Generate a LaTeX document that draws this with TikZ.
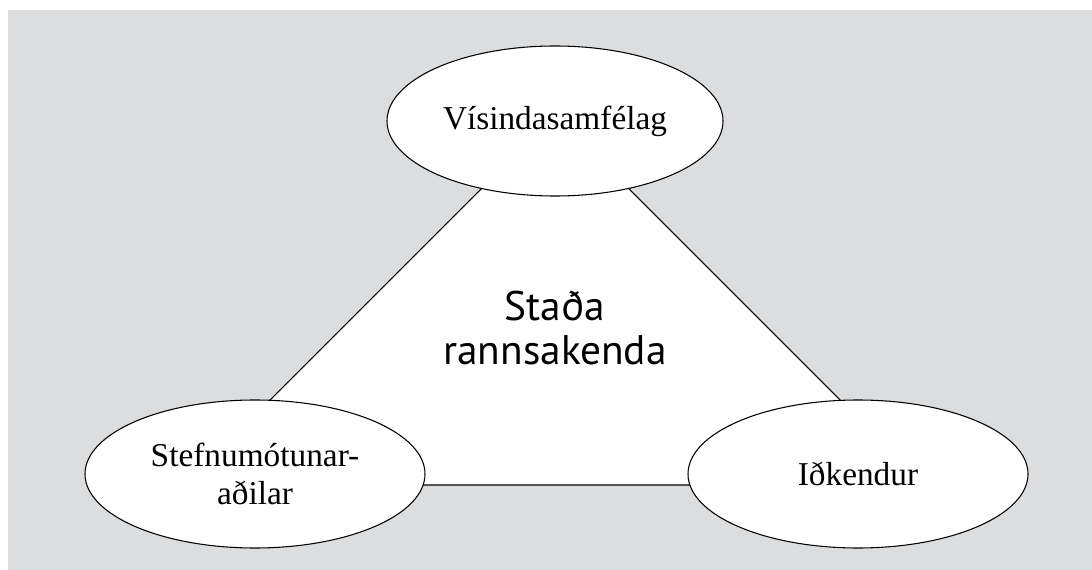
\documentclass[tikz,border=0pt]{standalone}
\usepackage{fontspec}
\setmainfont{Liberation Serif}
\newfontfamily\centerfont{PT Sans}
\usetikzlibrary{shapes.geometric}
\definecolor{bggray}{RGB}{220,221,223}
\tikzset{
  party/.style={ellipse, draw=black, fill=white, line width=0.8pt, inner sep=0pt,
    minimum width=255pt, minimum height=111pt, align=center,
    font=\fontsize{25}{29}\selectfont},
  tri/.style={draw=black, fill=white, line width=0.8pt, line join=miter},
  centertext/.style={align=center, inner sep=0pt,
    font=\centerfont\fontsize{31}{32.5}\selectfont}
}
\begin{document}
\begin{tikzpicture}[x=0.75pt, y=-0.75pt]
\useasboundingbox (0,0) rectangle (1092,570);
\fill[bggray] (8,10) rectangle (1092,570);
% triangle corners
\coordinate (apex) at (555,115);
\coordinate (bl) at (185,485);
\coordinate (br) at (925,485);
\draw[tri] (apex) -- (bl) -- (br) -- cycle;
\node[centertext] (center) at (555,328) {Staða\\rannsakenda};
\node[party, minimum width=252pt, minimum height=112.5pt] (vis) at (555,121) {Vísindasamfélag};
\node[party] (stef) at (255,474) {Stefnumótunar-\\aðilar};
\node[party] (idk) at (858,474) {Iðkendur};
\end{tikzpicture}
\end{document}
